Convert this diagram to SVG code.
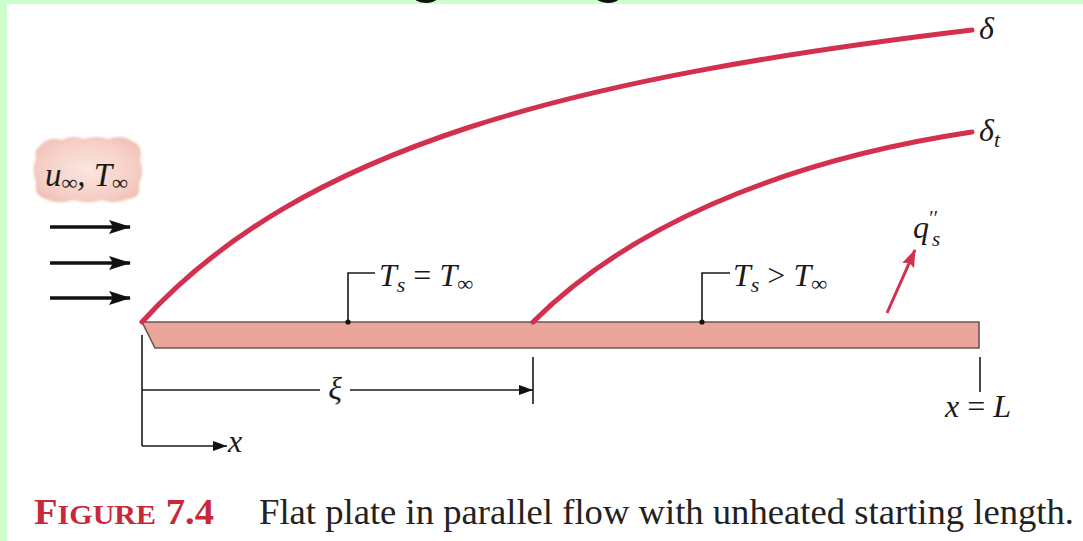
<svg xmlns="http://www.w3.org/2000/svg" width="1083" height="541" viewBox="0 0 1083 541">
<style>
.it{font-family:"Liberation Serif","Times New Roman",serif;font-style:italic;fill:#1a1a1a}
.bl{stroke:#1a1a1a;stroke-width:1.6;fill:none}
.red{stroke:#d2304e;stroke-width:5;fill:none;stroke-linecap:round}
.cap{font-family:"Liberation Serif","Times New Roman",serif;fill:#222}
</style>
<defs>
<marker id="flow" markerUnits="userSpaceOnUse" markerWidth="22" markerHeight="14" refX="21" refY="7" orient="auto"><path d="M0,0 L22,7 L0,14 L4,7 z" fill="#111"/></marker>
<marker id="dim" markerUnits="userSpaceOnUse" markerWidth="14" markerHeight="10" refX="14" refY="5" orient="auto"><path d="M0,0 L14,5 L0,10 z" fill="#111"/></marker>
<marker id="qarr" markerUnits="userSpaceOnUse" markerWidth="18" markerHeight="13" refX="17" refY="6.5" orient="auto"><path d="M0,0 L18,6.5 L0,13 L3,6.5 z" fill="#d2304e"/></marker>
<radialGradient id="cloudg" cx="50%" cy="50%" r="60%"><stop offset="0" stop-color="#fbe6e1"/><stop offset="0.7" stop-color="#f5cfc6"/><stop offset="1" stop-color="#f0c0b6"/></radialGradient>
<filter id="soft" x="-10%" y="-10%" width="120%" height="120%"><feGaussianBlur stdDeviation="1.2"/></filter>
</defs>
<rect width="1083" height="541" fill="#ffffff"/>
<rect x="0" y="0" width="1083" height="4" fill="#ccffcc"/>
<rect x="0" y="0" width="7" height="541" fill="#ccffcc"/>
<g id="title-fragment">
<text x="407" y="-12" font-family="Liberation Sans,Arial,sans-serif" font-size="70" fill="#111">g</text>
<text x="589" y="-12" font-family="Liberation Sans,Arial,sans-serif" font-size="70" fill="#111">g</text>
</g>
<g id="freestream">
<path d="M40,146 Q48,136 62,140 Q72,134 84,139 Q96,135 108,139 Q122,134 132,141 Q144,146 140,160 Q145,172 139,184 Q142,198 128,199 Q116,205 102,200 Q88,205 74,200 Q58,205 46,199 Q33,196 36,182 Q31,170 36,158 Q33,150 40,146 z" fill="url(#cloudg)" filter="url(#soft)"/>
<text class="it" x="45" y="186" font-size="33">u<tspan font-size="22" dy="4">∞</tspan><tspan dy="-4">, T</tspan><tspan font-size="22" dy="4">∞</tspan></text>
</g>
<g id="flow-arrows">
<line x1="50" y1="227" x2="130" y2="227" stroke="#111" stroke-width="3.5" marker-end="url(#flow)"/>
<line x1="50" y1="263" x2="130" y2="263" stroke="#111" stroke-width="3.5" marker-end="url(#flow)"/>
<line x1="50" y1="298" x2="130" y2="298" stroke="#111" stroke-width="3.5" marker-end="url(#flow)"/>
</g>
<g id="plate">
<path d="M142,322 L979,322 L979,348 L155,348 z" fill="#eba69c" stroke="#6b5555" stroke-width="1.6"/>
</g>
<g id="boundary-layers">
<path id="delta" class="red" d="M142,322 C302,146 572,78 972,30"/>
<path id="delta-t" class="red" d="M533,322 C623,232 772,162 972,132"/>
<text class="it" x="979" y="39" font-size="32">δ</text>
<text class="it" x="979" y="141" font-size="32">δ<tspan font-size="22" dy="6">t</tspan></text>
</g>
<g id="labels">
<polyline class="bl" points="348,322 348,273 375,273"/>
<circle cx="348" cy="322" r="2.6" fill="#111"/>
<text class="it" x="379" y="286" font-size="32">T<tspan font-size="22" dy="6">s</tspan><tspan dy="-6" font-style="normal"> = </tspan>T<tspan font-size="22" dy="5">∞</tspan></text>
<polyline class="bl" points="702,322 702,273 730,273"/>
<circle cx="702" cy="322" r="2.6" fill="#111"/>
<text class="it" x="733" y="286" font-size="32">T<tspan font-size="22" dy="6">s</tspan><tspan dy="-6" font-style="normal"> &gt; </tspan>T<tspan font-size="22" dy="5">∞</tspan></text>
<line x1="887" y1="313" x2="915" y2="250" stroke="#d2304e" stroke-width="3" marker-end="url(#qarr)"/>
<text class="it" x="913" y="238" font-size="32">q</text>
<text class="it" x="928" y="225" font-size="20">′′</text>
<text class="it" x="932" y="246" font-size="21">s</text>
</g>
<g id="dimensions">
<line class="bl" x1="142" y1="335" x2="142" y2="446"/>
<line class="bl" x1="142" y1="390" x2="320" y2="390"/>
<line class="bl" x1="350" y1="390" x2="533" y2="390" marker-end="url(#dim)"/>
<line class="bl" x1="533" y1="357" x2="533" y2="404"/>
<text class="it" x="335" y="399" font-size="32" text-anchor="middle">ξ</text>
<line class="bl" x1="142" y1="446" x2="227" y2="446" marker-end="url(#dim)"/>
<text class="it" x="228" y="452" font-size="32">x</text>
<line class="bl" x1="980" y1="357" x2="980" y2="392"/>
<text class="it" x="945" y="417" font-size="32">x <tspan font-style="normal">=</tspan> L</text>
</g>
<g id="caption">
<text class="cap" x="34" y="524" font-size="36" font-weight="bold" style="fill:#c8283c" textLength="180" lengthAdjust="spacingAndGlyphs">F<tspan font-size="28">IGURE</tspan> 7.4</text>
<text class="cap" x="259" y="524" font-size="36" textLength="815" lengthAdjust="spacingAndGlyphs">Flat plate in parallel flow with unheated starting length.</text>
</g>
</svg>
